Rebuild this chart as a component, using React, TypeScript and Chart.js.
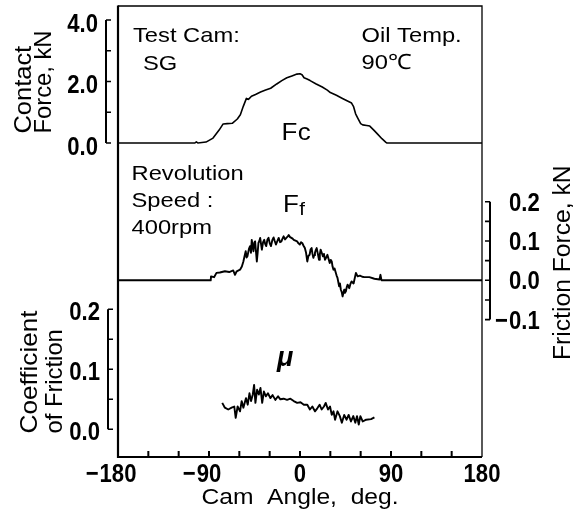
import React, { useEffect, useRef } from "react";
import { Chart, registerables } from "chart.js";

Chart.register(...registerables);

// ---------- data ----------
const fcAngle = [-180, -104, -102.5, -101, -93, -86, -80, -76, -72, -67, -62, -59, -56, -53, -51, -48, -44, -39, -34, -29, -23, -18, -13, -8, -3, 0, 2, 4, 7, 10, 16, 22, 27, 30, 36, 42, 48, 51, 53, 55, 57, 60, 62, 66, 69, 73, 77, 81, 85, 86, 180];
const fcValue = [0, 0, 0.04, 0, 0.03, 0.16, 0.42, 0.62, 0.63, 0.64, 0.78, 0.92, 1.2, 1.45, 1.42, 1.52, 1.58, 1.66, 1.72, 1.78, 1.92, 2.03, 2.12, 2.18, 2.24, 2.25, 2.22, 2.12, 2.08, 2.03, 1.92, 1.82, 1.72, 1.64, 1.55, 1.45, 1.35, 1.3, 1.18, 0.95, 0.82, 0.63, 0.59, 0.57, 0.55, 0.42, 0.28, 0.14, 0.02, 0, 0];

const ffAngle = [-180, -88.3, -88, -85, -82.6, -79.3, -74.3, -70, -66, -64.3, -62.6, -59.3, -57.5, -56, -54.8, -53.7, -52.8, -52, -50.5, -49.4, -48.5, -47.7, -46.8, -46, -45.2, -44.4, -43.5, -42.7, -41.9, -41.1, -40.2, -39.4, -38.5, -37.7, -36.5, -35.4, -34.4, -33.4, -32.2, -31.1, -29.9, -28.7, -27.4, -26.1, -25, -23.8, -22.4, -21.1, -19.7, -18.4, -17.3, -16.2, -14.8, -13.5, -12.3, -11.2, -9.8, -8.5, -7.3, -6.2, -4.5, -2.8, -1.5, -0.2, 1, 2.2, 3.5, 4.8, 6, 7.2, 8.3, 9.5, 10.5, 11.5, 12.3, 13.2, 14, 14.8, 15.6, 16.5, 17.6, 18.8, 19.6, 20.4, 21.5, 22.7, 23.7, 24.7, 25.9, 27.1, 28.2, 29.4, 30.4, 31.4, 32.2, 33.1, 34.2, 35.4, 36.2, 37.1, 38.7, 39.5, 40.4, 41.3, 42.1, 43.7, 44.5, 45.4, 46.2, 47.1, 48.7, 49.8, 51, 53, 55.3, 57, 59.3, 61.5, 63.6, 68.6, 73.6, 78.6, 79.6, 80.6, 180];
const ffValue = [0, 0, 0.01, 0.008, 0.019, 0.02, 0.023, 0.021, 0.025, 0.014, 0.023, 0.027, 0.035, 0.048, 0.062, 0.074, 0.058, 0.061, 0.08, 0.087, 0.07, 0.103, 0.085, 0.074, 0.096, 0.099, 0.072, 0.048, 0.07, 0.095, 0.1, 0.108, 0.092, 0.078, 0.097, 0.103, 0.092, 0.087, 0.104, 0.108, 0.094, 0.087, 0.102, 0.109, 0.1, 0.091, 0.1, 0.108, 0.097, 0.099, 0.106, 0.112, 0.104, 0.108, 0.111, 0.115, 0.11, 0.108, 0.106, 0.103, 0.101, 0.099, 0.094, 0.091, 0.097, 0.095, 0.088, 0.082, 0.07, 0.048, 0.062, 0.065, 0.079, 0.082, 0.068, 0.057, 0.064, 0.07, 0.077, 0.082, 0.068, 0.052, 0.066, 0.078, 0.07, 0.061, 0.067, 0.052, 0.058, 0.065, 0.055, 0.044, 0.052, 0.048, 0.035, 0.027, 0.03, 0.019, 0.012, 0.006, -0.015, -0.008, -0.024, -0.03, -0.041, -0.024, -0.032, -0.028, -0.018, -0.011, -0.02, -0.01, -0.003, -0.008, 0.019, 0.01, 0.012, 0.009, 0.008, 0.008, 0.004, 0.002, 0.014, 0, 0];

const muAngle = [-76.9, -74.3, -71, -67.6, -65, -63.6, -61.7, -59.3, -57.7, -56, -53.4, -51.7, -50, -48.4, -46.7, -45.4, -44.1, -42.4, -40.7, -39.1, -37.4, -35.7, -33.7, -31.7, -29.3, -27.1, -24.4, -21.7, -19.4, -16.2, -12.8, -9.5, -6.2, -2.8, 0.5, 3.8, 7.2, 9.8, 12.2, 14.8, 17.1, 19.4, 21.4, 23.7, 25.4, 27.7, 29.7, 31.4, 33.1, 34.7, 37.1, 39.4, 41.4, 43.7, 46.1, 48.1, 50.4, 52.7, 54.7, 56.4, 58.1, 59.7, 62, 65.4, 70.3, 73.6];
const muValue = [0.044, 0.036, 0.033, 0.036, 0.038, 0.019, 0.038, 0.03, 0.047, 0.036, 0.052, 0.041, 0.06, 0.047, 0.058, 0.074, 0.044, 0.066, 0.058, 0.069, 0.044, 0.063, 0.055, 0.06, 0.052, 0.057, 0.049, 0.055, 0.05, 0.051, 0.049, 0.051, 0.047, 0.044, 0.045, 0.041, 0.041, 0.033, 0.038, 0.03, 0.035, 0.041, 0.033, 0.038, 0.044, 0.033, 0.038, 0.024, 0.03, 0.016, 0.03, 0.022, 0.011, 0.024, 0.016, 0.024, 0.013, 0.022, 0.011, 0.022, 0.008, 0.022, 0.013, 0.016, 0.017, 0.02];

const xTicks = [-150, -120, -90, -60, -30, 0, 30, 60, 90, 120, 150];
const xLabels = [-180, -90, 0, 90, 180];
const fcTicks = [0, 1, 2, 3, 4];
const fcLabels = [0, 2, 4];
const ffTicks = [-0.1, -0.05, 0, 0.05, 0.1, 0.15, 0.2];
const ffLabels = [-0.1, 0, 0.1, 0.2];
const muTicks = [0, 0.05, 0.1, 0.15, 0.2];
const muLabels = [0, 0.1, 0.2];

const FONT = '"Liberation Sans", Arial, sans-serif';
const MINUS = "\u2212";
const NB = "\u00A0";

type TOpts = { size: number; weight?: string; style?: string; sx?: number; align?: CanvasTextAlign; rot?: boolean };

function drawText(ctx: CanvasRenderingContext2D, s: string, x: number, y: number, o: TOpts) {
  ctx.save();
  ctx.translate(x, y);
  if (o.rot) ctx.rotate(-Math.PI / 2);
  ctx.scale(o.sx ?? 1, 1);
  ctx.font = `${o.style ?? "normal"} ${o.weight ?? "normal"} ${o.size}px ${FONT}`;
  ctx.textAlign = o.align ?? "left";
  ctx.textBaseline = "alphabetic";
  ctx.fillText(s, 0, 0);
  ctx.restore();
}

function measure(ctx: CanvasRenderingContext2D, s: string, o: TOpts) {
  ctx.save();
  ctx.font = `${o.style ?? "normal"} ${o.weight ?? "normal"} ${o.size}px ${FONT}`;
  const w = ctx.measureText(s).width * (o.sx ?? 1);
  ctx.restore();
  return w;
}

const TICKFONT: TOpts = { size: 26, weight: "bold", sx: 0.85 };
const LABEL: TOpts = { size: 21, sx: 1.13 };
const TITLE: TOpts = { size: 24, rot: true };

function numLabel(ctx: CanvasRenderingContext2D, v: number, digits: string, x: number, y: number, align: CanvasTextAlign) {
  const w = measure(ctx, digits, TICKFONT);
  drawText(ctx, digits, x, y, { ...TICKFONT, align });
  if (v < 0) {
    const left = align === "center" ? x - w / 2 : align === "right" ? x - w : x;
    drawText(ctx, MINUS, left - 1, y, { ...TICKFONT, align: "right" });
  }
}

const decor = {
  id: "decor",
  afterDraw(chart: any) {
    const { ctx, chartArea: a, scales } = chart;
    const sx = scales.x, yFc = scales.yFc, yFf = scales.yFf, yMu = scales.yMu;
    ctx.save();
    ctx.strokeStyle = "#000";
    ctx.fillStyle = "#000";
    ctx.lineCap = "butt";

    ctx.lineWidth = 1.3;
    ctx.beginPath();
    ctx.moveTo(a.left, a.top);
    ctx.lineTo(a.right, a.top);
    ctx.lineTo(a.right, a.bottom);
    ctx.stroke();
    ctx.lineWidth = 2.2;
    ctx.beginPath();
    ctx.moveTo(a.left, a.top - 0.6);
    ctx.lineTo(a.left, a.bottom);
    ctx.lineTo(a.right, a.bottom);
    ctx.stroke();

    ctx.lineWidth = 2;
    ctx.beginPath();
    for (const v of xTicks) {
      const px = sx.getPixelForValue(v);
      ctx.moveTo(px, a.bottom);
      ctx.lineTo(px, a.bottom - 6);
    }
    ctx.stroke();
    for (const v of xLabels) {
      numLabel(ctx, v, String(Math.abs(v)), sx.getPixelForValue(v), 482, "center");
    }

    const bracket = (scale: any, ticks: number[], xl: number, dir: number) => {
      const top = scale.getPixelForValue(Math.max(...ticks));
      const bot = scale.getPixelForValue(Math.min(...ticks));
      ctx.lineWidth = 2;
      ctx.beginPath();
      ctx.moveTo(xl, top);
      ctx.lineTo(xl, bot);
      ctx.stroke();
      ctx.lineWidth = 1.6;
      ctx.beginPath();
      for (const t of ticks) {
        const py = scale.getPixelForValue(t);
        ctx.moveTo(xl, py);
        ctx.lineTo(xl + dir * 5, py);
      }
      ctx.stroke();
    };
    bracket(yFc, fcTicks, 106, 1);
    bracket(yMu, muTicks, 108, 1);
    bracket(yFf, ffTicks, 490, -1);

    for (const v of fcLabels) numLabel(ctx, v, Math.abs(v).toFixed(1), 98, yFc.getPixelForValue(v) + 11.5, "right");
    for (const v of muLabels) numLabel(ctx, v, Math.abs(v).toFixed(1), 100, yMu.getPixelForValue(v) + 10.8, "right");
    for (const v of ffLabels) numLabel(ctx, v, Math.abs(v).toFixed(1), 509, yFf.getPixelForValue(v) + 9, "left");

    drawText(ctx, "Contact", 31, 133.5, { ...TITLE, sx: 1.06 });
    drawText(ctx, "Force, kN", 50.5, 133.5, { ...TITLE, sx: 0.99 });
    drawText(ctx, "Coefficient", 36.5, 433.5, { ...TITLE, sx: 1.09 });
    drawText(ctx, "of Friction", 61.5, 433.5, { ...TITLE, sx: 0.99 });
    drawText(ctx, "Friction Force, kN", 570, 360, { ...TITLE, size: 23.5, sx: 1.05 });
    drawText(ctx, `Cam${NB}${NB}Angle,${NB}${NB}deg.`, 300, 503.5, { size: 22, align: "center", sx: 1.12 });

    drawText(ctx, "Test Cam:", 133, 41.5, LABEL);
    drawText(ctx, "SG", 143, 70, LABEL);
    drawText(ctx, "Oil Temp.", 361.5, 41.5, LABEL);
    drawText(ctx, "90\u2103", 361.5, 68.5, LABEL);
    drawText(ctx, "Revolution", 131.5, 179.5, LABEL);
    drawText(ctx, "Speed :", 131.5, 206.5, LABEL);
    drawText(ctx, "400rpm", 131.5, 233.5, LABEL);

    const big: TOpts = { size: 24, sx: 1.08 };
    drawText(ctx, "F", 281.5, 140, big);
    drawText(ctx, "c", 281.5 + measure(ctx, "F", big) + 0.5, 140, big);
    drawText(ctx, "F", 283, 211.5, big);
    drawText(ctx, "f", 283 + measure(ctx, "F", big) + 0.5, 215, { size: 19, sx: 1.08 });
    drawText(ctx, "\u03BC", 277, 366, { size: 27, weight: "bold", style: "italic" });

    ctx.restore();
  },
};

const pts = (xs: number[], ys: number[]) => xs.map((x, i) => ({ x, y: ys[i] }));

export default function App() {
  const ref = useRef<HTMLCanvasElement>(null);
  useEffect(() => {
    document.body.style.margin = "0";
    document.body.style.overflow = "hidden";
    const canvas = ref.current!;
    const ds = (data: any, yAxisID: string, w: number) => ({
      data,
      yAxisID,
      borderColor: "#000",
      borderWidth: w,
      pointRadius: 0,
      tension: 0,
      fill: false,
      borderJoinStyle: "round" as const,
    });
    const chart = new Chart(canvas, {
      type: "line",
      data: {
        datasets: [
          ds(pts(fcAngle, fcValue), "yFc", 1.6),
          ds(pts(ffAngle, ffValue), "yFf", 1.9),
          ds(pts(muAngle, muValue), "yMu", 1.9),
        ],
      },
      options: {
        animation: false,
        responsive: false,
        devicePixelRatio: 1,
        layout: { padding: { left: 118, right: 99, top: 6, bottom: 65 } },
        plugins: { legend: { display: false }, tooltip: { enabled: false } },
        scales: {
          x: { type: "linear", min: -180, max: 180, display: false },
          yFc: { type: "linear", min: -10.2114, max: 4.4553, display: false },
          yFf: { type: "linear", min: -0.4496, max: 0.698, display: false },
          yMu: { type: "linear", min: -0.04617, max: 0.7055, display: false },
        },
      },
      plugins: [decor],
    });
    return () => chart.destroy();
  }, []);
  return (
    <div style={{ width: 581, height: 522, background: "#fff" }}>
      <canvas ref={ref} width={581} height={522} style={{ display: "block" }} />
    </div>
  );
}
